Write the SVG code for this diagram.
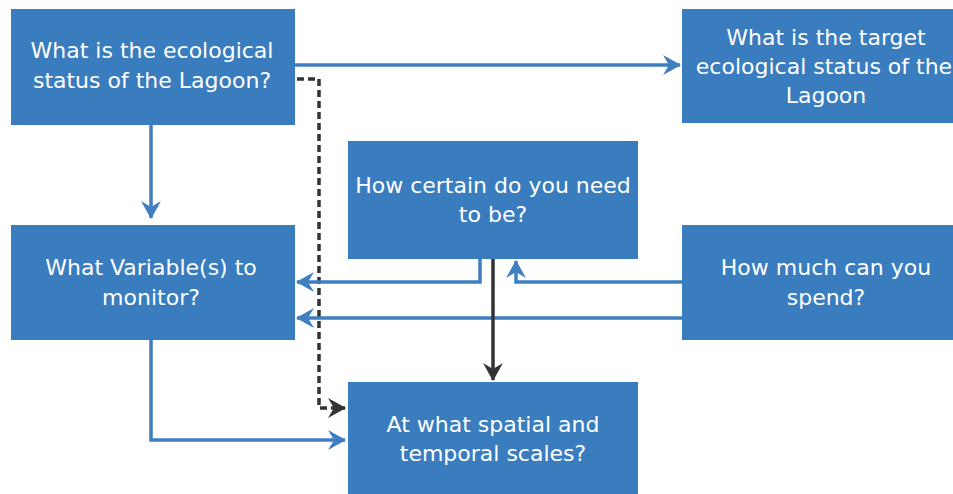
<svg xmlns="http://www.w3.org/2000/svg" width="953" height="494" viewBox="0 0 953 494">
<style>
.box{fill:#3a7dbf}
.t{fill:#fff;font-family:"DejaVu Sans",sans-serif;font-size:22px;text-anchor:middle}
.cb{fill:none;stroke:#3f7fc0;stroke-width:3.5}
.cd{fill:none;stroke:#333;stroke-width:3.5}
.dash{stroke-dasharray:7 4}
</style>
<defs>
<marker id="ab" viewBox="0 0 18 20" markerWidth="18" markerHeight="20" refX="17" refY="10" orient="auto" markerUnits="userSpaceOnUse">
<path d="M0,0 L18,10 L0,20 L6,10 z" fill="#3f7fc0"/>
</marker>
<marker id="ad" viewBox="0 0 18 20" markerWidth="18" markerHeight="20" refX="17" refY="10" orient="auto" markerUnits="userSpaceOnUse">
<path d="M0,0 L18,10 L0,20 L6,10 z" fill="#333"/>
</marker>
</defs>
<g id="connectors">
<path class="cb" d="M295,65 H680" marker-end="url(#ab)"/>
<path class="cb" d="M151,125 V218" marker-end="url(#ab)"/>
<path class="cd dash" d="M297,79 H319 V408 H345" marker-end="url(#ad)"/>
<path class="cb" d="M480,259 V282 H297" marker-end="url(#ab)"/>
<path class="cb" d="M682,282 H516 V261" marker-end="url(#ab)"/>
<path class="cb" d="M682,318 H297" marker-end="url(#ab)"/>
<path class="cd" d="M493,259 V380" marker-end="url(#ad)"/>
<path class="cb" d="M151,340 V440 H345" marker-end="url(#ab)"/>
</g>
<g id="n1"><rect class="box" x="11" y="9" width="284" height="116"/>
<text class="t" x="152" y="58">What is the ecological</text><text class="t" x="152" y="88">status of the Lagoon?</text></g>
<g id="n2"><rect class="box" x="682" y="9" width="290" height="114"/>
<text class="t" x="826" y="45">What is the target</text><text class="t" x="824" y="74">ecological status of the</text><text class="t" x="826" y="103">Lagoon</text></g>
<g id="n3"><rect class="box" x="348" y="141" width="290" height="118"/>
<text class="t" x="493" y="193">How certain do you need</text><text class="t" x="493" y="222">to be?</text></g>
<g id="n4"><rect class="box" x="11" y="225" width="284" height="115"/>
<text class="t" x="151" y="275">What Variable(s) to</text><text class="t" x="151" y="305">monitor?</text></g>
<g id="n5"><rect class="box" x="682" y="225" width="290" height="115"/>
<text class="t" x="826" y="275">How much can you</text><text class="t" x="826" y="305">spend?</text></g>
<g id="n6"><rect class="box" x="348" y="382" width="290" height="112"/>
<text class="t" x="493" y="432">At what spatial and</text><text class="t" x="493" y="461">temporal scales?</text></g>
</svg>
